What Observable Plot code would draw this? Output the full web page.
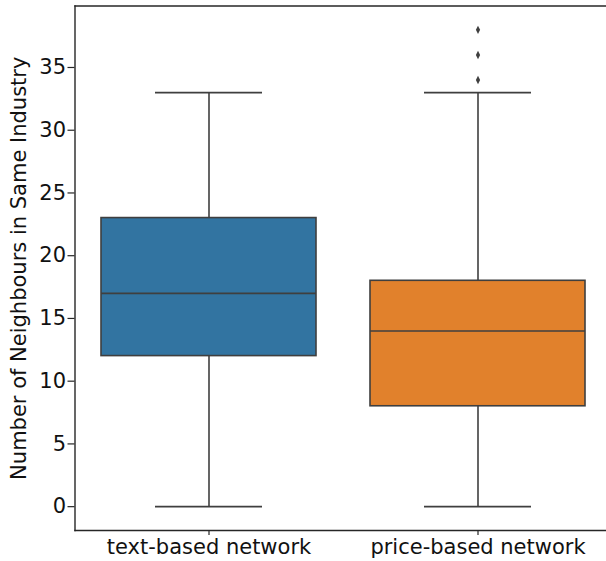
<!DOCTYPE html>
<html>
<head>
<meta charset="utf-8">
<script src="https://cdn.jsdelivr.net/npm/d3@7"></script>
<script src="https://cdn.jsdelivr.net/npm/@observablehq/plot@0.6"></script>
<style>
  html, body { margin: 0; padding: 0; background: white; overflow: hidden; width: 606px; height: 561px; }
</style>
</head>
<body>
<div id="chart"></div>
<script>
const categories = ["text-based network", "price-based network"];
const whiskerLow = [0, 0];
const q1 = [12, 8];
const median = [17, 14];
const q3 = [23, 18];
const whiskerHigh = [33, 33];
const outlierCategory = ["price-based network", "price-based network", "price-based network"];
const outlierValue = [34, 36, 38];
const colors = ["#3274a1", "#e1812c"];
const yTicks = [0, 5, 10, 15, 20, 25, 30, 35];

const boxes = categories.map((c, i) => ({
  cat: c, lo: whiskerLow[i], q1: q1[i], med: median[i], q3: q3[i], hi: whiskerHigh[i], color: colors[i]
}));
const outliers = outlierValue.map((v, i) => ({cat: outlierCategory[i], v}));

const thinDiamond = {
  draw(ctx) {
    ctx.moveTo(0, -4.2);
    ctx.lineTo(2.1, 0);
    ctx.lineTo(0, 4.2);
    ctx.lineTo(-2.1, 0);
    ctx.closePath();
  }
};

const lineColor = "#3f3f3f";
const font = "DejaVu Sans";

const chart = Plot.plot({
  width: 613,
  height: 561,
  marginLeft: 74.5,
  marginTop: 5.5,
  marginBottom: 31,
  marginRight: 0.5,
  style: {fontFamily: font, fontSize: "21px", color: "#111", background: "white", maxWidth: "none"},
  x: {type: "band", domain: categories, paddingInner: 0.2, paddingOuter: 0.1, align: 0.5},
  y: {domain: [-1.9, 39.9]},
  marks: [
    Plot.ruleX(boxes, {x: "cat", y1: "lo", y2: "q1", stroke: lineColor, strokeWidth: 1.6}),
    Plot.ruleX(boxes, {x: "cat", y1: "q3", y2: "hi", stroke: lineColor, strokeWidth: 1.6}),
    Plot.tickY(boxes, {x: "cat", y: "lo", stroke: lineColor, strokeWidth: 1.6, insetLeft: 54, insetRight: 54}),
    Plot.tickY(boxes, {x: "cat", y: "hi", stroke: lineColor, strokeWidth: 1.6, insetLeft: 54, insetRight: 54}),
    Plot.barY(boxes, {x: "cat", y1: "q1", y2: "q3", fill: "color", stroke: lineColor, strokeWidth: 1.6}),
    Plot.tickY(boxes, {x: "cat", y: "med", stroke: lineColor, strokeWidth: 1.6}),
    Plot.dot(outliers, {x: "cat", y: "v", symbol: thinDiamond, fill: lineColor, stroke: "none", r: 4}),
    Plot.frame({anchor: "top", stroke: "#262626", strokeWidth: 1.4}),
    Plot.frame({anchor: "bottom", stroke: "#262626", strokeWidth: 1.4}),
    Plot.frame({anchor: "left", stroke: "#262626", strokeWidth: 1.4}),
    Plot.axisY(yTicks, {
      tickSize: 7, tickPadding: 2, stroke: "#262626", strokeWidth: 1.2,
      label: null, fontSize: 21, fill: "#111"
    }),
    Plot.axisX({
      tickSize: 5, tickPadding: 4, stroke: "#262626", strokeWidth: 1.2,
      label: null, fontSize: 21, fill: "#111"
    }),
    Plot.text(["Number of Neighbours in Same Industry"], {
      frameAnchor: "left", dx: -56, rotate: -90, fontSize: 21, fill: "#111", textAnchor: "middle"
    })
  ]
});
document.getElementById("chart").appendChild(chart);
</script>
</body>
</html>
